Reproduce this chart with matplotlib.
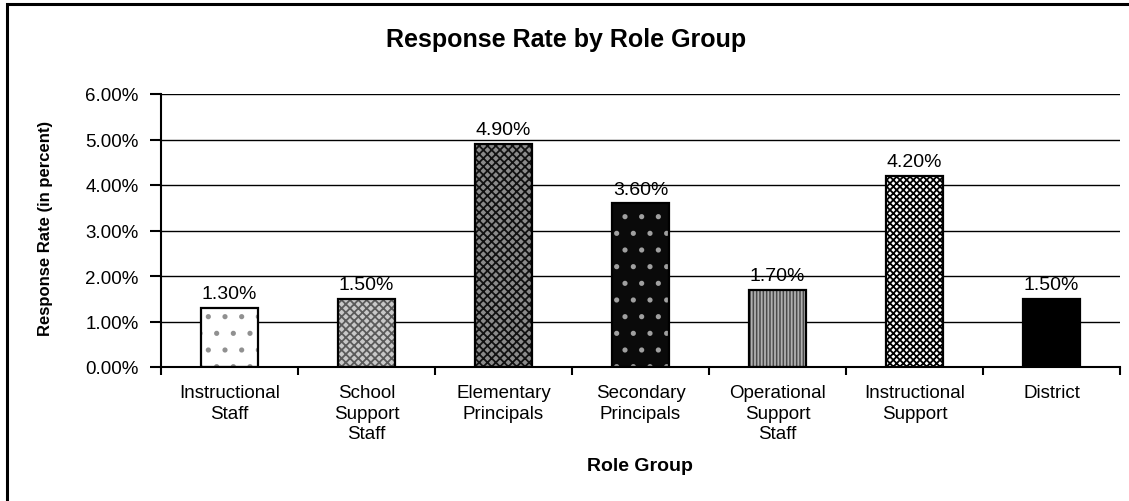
import matplotlib.pyplot as plt
import numpy as np
from matplotlib.patches import Rectangle
from matplotlib.ticker import FixedLocator, PercentFormatter

plt.rcParams['font.family'] = ['Liberation Sans', 'DejaVu Sans']
plt.rcParams['hatch.linewidth'] = 1.3

roles = ['Instructional\nStaff', 'School\nSupport\nStaff', 'Elementary\nPrincipals',
         'Secondary\nPrincipals', 'Operational\nSupport\nStaff', 'Instructional\nSupport',
         'District']
rates = [1.30, 1.50, 4.90, 3.60, 1.70, 4.20, 1.50]

# fill colour, hatch colour, hatch pattern for each bar
fills = [('white', '#909090', '.'),
         ('#c8c8c8', '#5a5a5a', 'xxxx'),
         ('#8a8a8a', '#111111', 'xxxx'),
         ('#0a0a0a', '#a0a0a0', '.'),
         ('#4a4a4a', '#b0b0b0', '|||||'),
         ('white', '#000000', 'xxxxx'),
         ('black', 'black', None)]

fig = plt.figure(figsize=(11.29, 5.02), dpi=100)
ax = fig.add_axes([161 / 1129, 1 - 368 / 502, (1120 - 161) / 1129, (368 - 95) / 502])

x = np.arange(len(roles))
w = 0.41
for xi, r, (fc, hc, hp) in zip(x, rates, fills):
    ax.bar(xi, r, w, color=fc, edgecolor=hc, hatch=hp, linewidth=0, zorder=2)
    ax.bar(xi, r, w, fill=False, edgecolor='black', linewidth=1.6, zorder=3)
    ax.annotate(f'{r:.2f}%', (xi, r), xytext=(0, 4), textcoords='offset points',
                ha='center', va='bottom', fontsize=14)

ax.set_xlim(-0.5, len(roles) - 0.5)
ax.set_ylim(0, 6)
ax.yaxis.set_major_locator(FixedLocator(np.arange(0, 7)))
ax.yaxis.set_major_formatter(PercentFormatter(decimals=2))
ax.grid(axis='y', color='black', linewidth=1.0, zorder=0)
ax.set_axisbelow(True)

ax.set_xticks(x)
ax.set_xticklabels(roles, fontsize=13.5, linespacing=1.3, va='top')
ax.xaxis.set_minor_locator(FixedLocator(np.arange(-0.5, len(roles))))
ax.tick_params(axis='x', which='major', length=0, pad=12)
ax.tick_params(axis='x', which='minor', length=6, width=1.5, direction='out')
ax.tick_params(axis='y', length=8, width=1.5, labelsize=13.5, pad=8)

for s in ['top', 'right']:
    ax.spines[s].set_visible(False)
for s in ['left', 'bottom']:
    ax.spines[s].set_linewidth(1.5)

fig.text(566 / 1129, 1 - 40 / 502, 'Response Rate by Role Group', ha='center', va='center',
         fontsize=18, fontweight='bold')
fig.text(640 / 1129, 1 - 467 / 502, 'Role Group', ha='center', va='center',
         fontsize=14, fontweight='bold')
fig.text(46 / 1129, 1 - 228 / 502, 'Response Rate (in percent)', ha='center', va='center',
         rotation=90, fontsize=12, fontweight='bold')

# chart frame running off the right and bottom edges
fig.patches.append(Rectangle((7 / 1129, -0.1), 1.2, 1 - 5 / 502 + 0.1, transform=fig.transFigure,
                             fill=False, edgecolor='black', linewidth=2.2))

fig.savefig('out.png', dpi=100)
